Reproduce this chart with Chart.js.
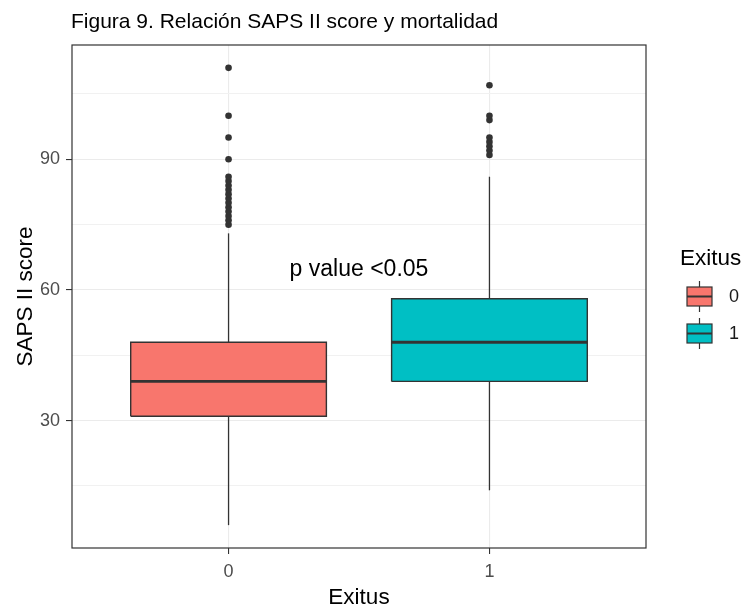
<!DOCTYPE html>
<html>
<head>
<meta charset="utf-8">
<script src="https://cdn.jsdelivr.net/npm/chart.js@4.4.1/dist/chart.umd.min.js"></script>
<style>
  body { margin: 0; background: #fff; }
  #wrap { width: 746px; height: 607px; }
</style>
</head>
<body>
<div id="wrap"><canvas id="box-chart" width="746" height="607"></canvas></div>
<script>
// Boxplot stats per group
const groups = [0, 1];
const lowerWhisker = [6, 14];
const q1 = [31, 39];
const median = [39, 48];
const q3 = [48, 58];
const upperWhisker = [73, 86];
const outliers0 = [75, 76, 77, 78, 79, 80, 81, 82, 83, 84, 85, 86, 90, 95, 100, 111];
const outliers1 = [91, 92, 93, 94, 95, 99, 100, 107];
const outliers = [outliers0, outliers1];
const fillColors = ['#F8766D', '#00BFC4'];
const yTicks = [30, 60, 90];
const yMinor = [15, 45, 75, 105];

const FONT = "'Liberation Sans', Arial, sans-serif";
const EDGE = '#333333';
const HALF = 0.375; // half box width

// Build datasets for each group
const datasets = [];
groups.forEach((g, i) => {
    // box fill
    datasets.push({
        data: [{ x: g - HALF, y: q3[i] }, { x: g + HALF, y: q3[i] }],
        showLine: true, fill: { value: q1[i] },
        backgroundColor: fillColors[i], borderWidth: 0, pointRadius: 0, order: 5,
    });
    // whiskers
    datasets.push({
        data: [{ x: g, y: q3[i] }, { x: g, y: upperWhisker[i] }],
        showLine: true, borderColor: EDGE, borderWidth: 1.3, pointRadius: 0, order: 4,
    });
    datasets.push({
        data: [{ x: g, y: lowerWhisker[i] }, { x: g, y: q1[i] }],
        showLine: true, borderColor: EDGE, borderWidth: 1.3, pointRadius: 0, order: 4,
    });
    // box outline
    datasets.push({
        data: [
            { x: g - HALF, y: q1[i] }, { x: g + HALF, y: q1[i] },
            { x: g + HALF, y: q3[i] }, { x: g - HALF, y: q3[i] },
            { x: g - HALF, y: q1[i] },
        ],
        showLine: true, borderColor: EDGE, borderWidth: 1.4, pointRadius: 0, order: 3,
    });
    // median
    datasets.push({
        data: [{ x: g - HALF, y: median[i] }, { x: g + HALF, y: median[i] }],
        showLine: true, borderColor: EDGE, borderWidth: 2.8, pointRadius: 0, order: 2,
    });
    // outliers
    datasets.push({
        data: outliers[i].map(v => ({ x: g, y: v })),
        showLine: false, pointRadius: 3.3, pointBorderWidth: 0,
        pointBackgroundColor: EDGE, order: 1,
    });
});

// Title, annotation, axis titles, panel border and legend
const decorations = {
    id: 'decorations',
    afterDraw(chart) {
        const c = chart.ctx;
        const a = chart.chartArea;
        const xs = chart.scales.x, ys = chart.scales.y;
        c.save();

        // panel border
        c.strokeStyle = EDGE;
        c.lineWidth = 1.2;
        c.strokeRect(a.left, a.top, a.right - a.left, a.bottom - a.top);

        c.fillStyle = '#000';
        c.textBaseline = 'alphabetic';

        // title
        c.font = '21px ' + FONT;
        c.textAlign = 'left';
        c.fillText('Figura 9. Relación SAPS II score y mortalidad', 71, 28);

        // annotation
        c.font = '23px ' + FONT;
        c.textAlign = 'center';
        c.fillText('p value <0.05', xs.getPixelForValue(0.5), ys.getPixelForValue(65) + 8);

        // x axis title
        c.font = '22.5px ' + FONT;
        c.fillText('Exitus', (a.left + a.right) / 2, 604);

        // y axis title
        c.save();
        c.translate(32, (a.top + a.bottom) / 2);
        c.rotate(-Math.PI / 2);
        c.fillText('SAPS II score', 0, 0);
        c.restore();

        // legend
        c.textAlign = 'left';
        c.fillText('Exitus', 680, 265);
        const keyTops = [287, 324];
        groups.forEach((g, i) => {
            const top = keyTops[i];
            const cx = 699.5;
            c.strokeStyle = EDGE;
            c.lineWidth = 1.2;
            c.beginPath();
            c.moveTo(cx, top - 6); c.lineTo(cx, top);
            c.moveTo(cx, top + 19); c.lineTo(cx, top + 25);
            c.stroke();
            c.fillStyle = fillColors[i];
            c.fillRect(687, top, 25, 19);
            c.strokeRect(687, top, 25, 19);
            c.lineWidth = 2;
            c.beginPath();
            c.moveTo(687, top + 9.5); c.lineTo(712, top + 9.5);
            c.stroke();
            c.fillStyle = '#1a1a1a';
            c.font = '18px ' + FONT;
            c.textBaseline = 'middle';
            c.fillText(String(g), 729, top + 10);
            c.textBaseline = 'alphabetic';
        });
        c.restore();
    }
};

const chart = new Chart(document.getElementById('box-chart').getContext('2d'), {
    type: 'scatter',
    data: { datasets },
    options: {
        responsive: false,
        animation: false,
        layout: { padding: { left: 0, top: 45, right: 100, bottom: 0 } },
        plugins: { legend: { display: false }, tooltip: { enabled: false } },
        scales: {
            x: {
                type: 'linear', min: -0.6, max: 1.6,
                afterBuildTicks: (s) => { s.ticks = groups.map(v => ({ value: v })); },
                afterFit: (s) => { s.height = 59; },
                grid: { color: '#ebebeb', lineWidth: 1.1, tickLength: 6, tickColor: EDGE },
                border: { display: false },
                ticks: {
                    callback: (v) => String(v), autoSkip: false, maxRotation: 0, padding: 7,
                    color: '#4d4d4d', font: { family: FONT, size: 18 },
                },
            },
            y: {
                min: 0.75, max: 116.25,
                afterBuildTicks: (s) => {
                    s.ticks = yTicks.concat(yMinor).sort((a, b) => a - b).map(v => ({ value: v }));
                },
                afterFit: (s) => { s.width = 72; },
                grid: {
                    color: (ctx) => yTicks.includes(ctx.tick && ctx.tick.value) ? '#ebebeb' : '#f1f1f1',
                    lineWidth: 1.1, tickLength: 6,
                    tickColor: (ctx) => yTicks.includes(ctx.tick && ctx.tick.value) ? EDGE : 'rgba(0,0,0,0)',
                },
                border: { display: false },
                ticks: {
                    callback: (v) => yTicks.includes(v) ? String(v) : '',
                    autoSkip: false, padding: 6,
                    color: '#4d4d4d', font: { family: FONT, size: 18 },
                },
            },
        },
    },
    plugins: [decorations],
});
</script>
</body>
</html>
